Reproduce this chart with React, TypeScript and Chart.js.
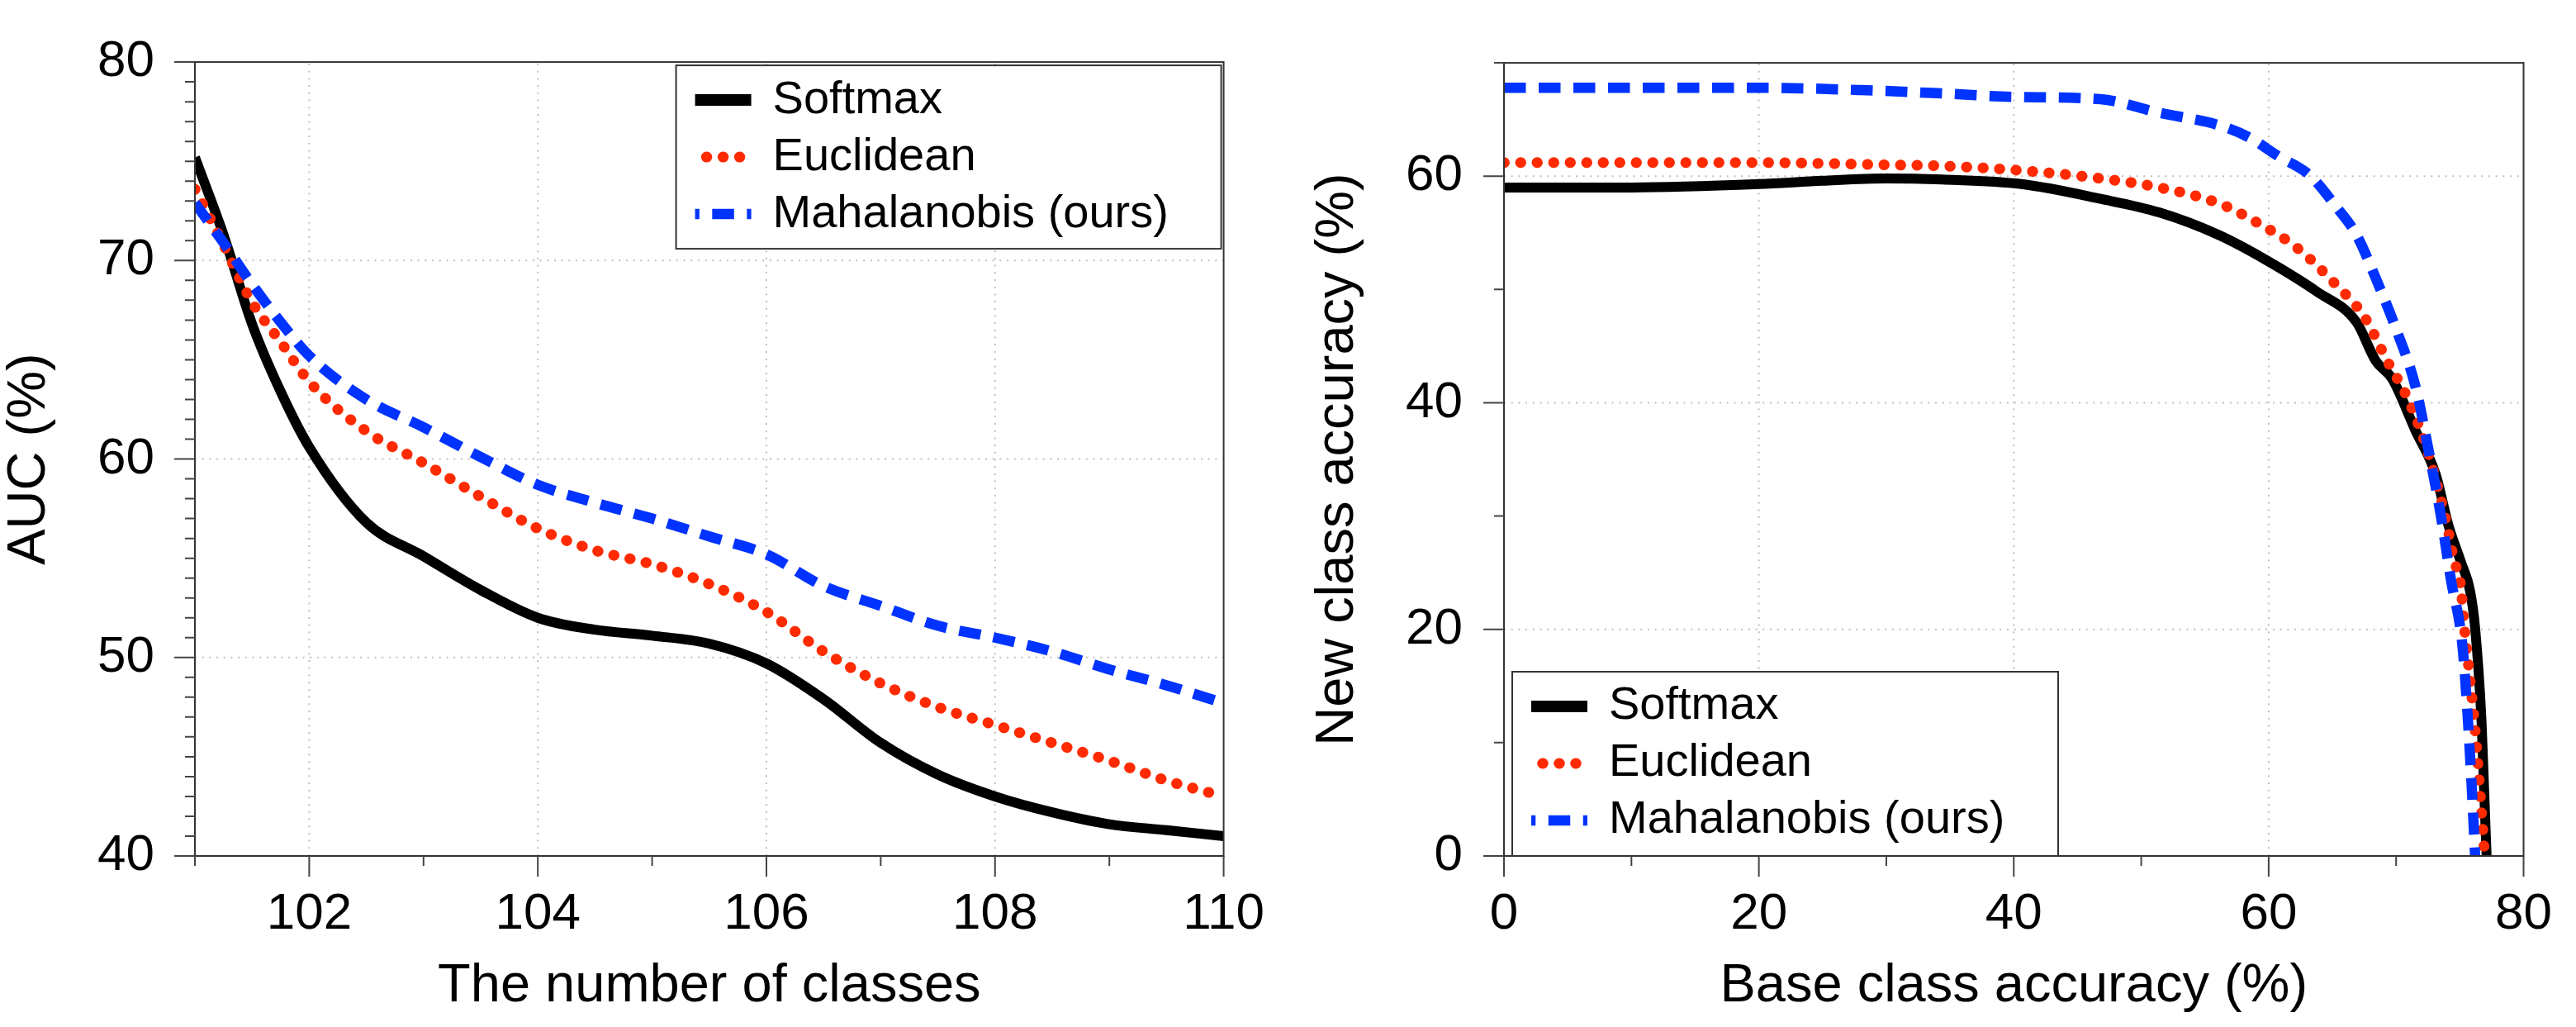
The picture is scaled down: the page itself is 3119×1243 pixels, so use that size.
import React, { useEffect, useRef } from 'react';
import { Chart, registerables } from 'chart.js';

Chart.register(...registerables);

const FONT = '"Liberation Sans", Arial, Helvetica, sans-serif';

// ---------- Left panel: AUC vs. number of classes ----------
const classCounts = [101, 101.25, 101.5, 101.75, 102, 102.5, 103, 103.5, 104, 104.5, 105, 105.5, 106, 106.5, 107, 107.5, 108, 108.5, 109, 109.5, 110];
const aucSoftmax = [75.2, 71.3, 66.8, 63.4, 60.6, 56.8, 55.1, 53.4, 52.0, 51.4, 51.1, 50.7, 49.7, 47.9, 45.7, 44.1, 43.0, 42.2, 41.6, 41.3, 41.0];
const aucEuclidean = [73.6, 70.8, 67.9, 65.9, 63.9, 61.4, 59.8, 58.1, 56.5, 55.4, 54.7, 53.7, 52.3, 50.3, 48.7, 47.5, 46.6, 45.7, 44.8, 43.8, 43.0];
const aucMahalanobis = [72.9, 70.9, 68.8, 66.9, 65.2, 63.0, 61.6, 60.1, 58.7, 57.8, 57.0, 56.1, 55.2, 53.6, 52.6, 51.6, 51.0, 50.3, 49.4, 48.6, 47.7];

const classTicks = [102, 104, 106, 108, 110];
const classMinorTicks = [101, 103, 105, 107, 109];
const aucTicks = [40, 50, 60, 70, 80];
const aucMinorTicks = [41, 42, 43, 44, 45, 46, 47, 48, 49, 51, 52, 53, 54, 55, 56, 57, 58, 59, 61, 62, 63, 64, 65, 66, 67, 68, 69, 71, 72, 73, 74, 75, 76, 77, 78, 79];

// ---------- Right panel: new class accuracy vs. base class accuracy ----------
const softmaxBase = [0, 10, 20, 25, 30, 34.4, 40.6, 46.8, 51.4, 56.1, 59.8, 63.8, 66.9, 68.4, 69.7, 71.5, 73.1, 74.1, 75.1, 75.8, 76.2, 76.7, 76.9, 77.1];
const softmaxNew = [59.0, 59.0, 59.3, 59.6, 59.8, 59.7, 59.3, 58.0, 56.8, 54.8, 52.6, 49.8, 47.1, 43.7, 42.1, 37.6, 33.7, 29.2, 25.9, 23.4, 20.1, 11.9, 6.0, 0];
const euclideanBase = [0, 10, 20, 30, 34.4, 40.6, 46.8, 51.4, 56.1, 59.1, 62.2, 65.3, 67.5, 69.3, 70.9, 72.4, 73.4, 74.0, 74.5, 75.1, 75.3, 75.7, 76.2, 76.6, 76.95];
const euclideanNew = [61.2, 61.2, 61.2, 61.0, 60.9, 60.5, 59.8, 59.0, 57.6, 55.9, 53.7, 50.4, 47.6, 43.7, 40.4, 36.0, 32.0, 29.2, 26.3, 23.6, 20.8, 16.6, 11.1, 5.5, 0];
const mahalanobisBase = [0, 10, 20, 28, 34.4, 40, 46.8, 51.4, 56.1, 58.5, 60.7, 63.2, 65.3, 66.9, 68.4, 70.0, 71.5, 72.6, 73.5, 74.3, 75.2, 75.6, 75.9, 76.2];
const mahalanobisNew = [67.8, 67.8, 67.8, 67.6, 67.3, 67.0, 66.8, 65.6, 64.5, 63.4, 61.8, 60.1, 57.3, 54.8, 51.0, 46.5, 41.5, 35.5, 30.1, 24.4, 18.6, 12.6, 6.8, 0];

const baseTicks = [0, 20, 40, 60, 80];
const baseMinorTicks = [10, 30, 50, 70];
const newTicks = [0, 20, 40, 60];
const newMinorTicks = [10, 30, 50, 70];

const seriesLabels = ['Softmax', 'Euclidean', 'Mahalanobis (ours)'];

const zip = (xs: number[], ys: number[]) => xs.map((x, i) => ({ x, y: ys[i] }));

function makeDatasets(sets: { x: number; y: number }[][]) {
  return [
    {
      label: seriesLabels[0], data: sets[0], borderColor: '#000000', borderWidth: 12,
      borderCapStyle: 'butt', borderJoinStyle: 'round', borderDash: [] as number[],
      pointRadius: 0, cubicInterpolationMode: 'monotone', order: 2, fill: false,
    },
    {
      label: seriesLabels[1], data: sets[1], borderColor: '#ff2a00', borderWidth: 13,
      borderCapStyle: 'round', borderJoinStyle: 'round', borderDash: [0.5, 19.5],
      pointRadius: 0, cubicInterpolationMode: 'monotone', order: 1, fill: false,
    },
    {
      label: seriesLabels[2], data: sets[2], borderColor: '#0033ff', borderWidth: 12.5,
      borderCapStyle: 'butt', borderJoinStyle: 'round', borderDash: [26.5, 15.5],
      pointRadius: 0, cubicInterpolationMode: 'monotone', order: 0, fill: false,
    },
  ];
}

type Box = { x: number; y: number; w: number; h: number };
type Decor = {
  xMajor: number[]; xMinor: number[]; yMajor: number[]; yMinor: number[];
  legend: (a: any) => Box;
};

function decorPlugin(d: Decor) {
  return {
    id: 'decor',
    beforeDatasetsDraw(chart: any) {
      const { ctx, chartArea: a } = chart;
      const xs = chart.scales.x, ys = chart.scales.y;
      ctx.save();
      ctx.strokeStyle = '#bfbfbf';
      ctx.lineWidth = 2;
      ctx.setLineDash([2, 6.7]);
      ctx.beginPath();
      for (const v of d.xMajor) {
        const p = xs.getPixelForValue(v);
        if (p > a.left + 3 && p < a.right - 3) { ctx.moveTo(p, a.bottom); ctx.lineTo(p, a.top); }
      }
      for (const v of d.yMajor) {
        const p = ys.getPixelForValue(v);
        if (p > a.top + 3 && p < a.bottom - 3) { ctx.moveTo(a.left, p); ctx.lineTo(a.right, p); }
      }
      ctx.stroke();
      ctx.restore();
    },
    afterDatasetsDraw(chart: any) {
      const { ctx, chartArea: a } = chart;
      const xs = chart.scales.x, ys = chart.scales.y;
      ctx.save();
      // legend
      const box = d.legend(a);
      ctx.fillStyle = '#ffffff';
      ctx.fillRect(box.x, box.y, box.w, box.h);
      ctx.strokeStyle = '#333333';
      ctx.lineWidth = 2;
      ctx.setLineDash([]);
      ctx.strokeRect(box.x, box.y, box.w, box.h);
      chart.data.datasets.forEach((ds: any, i: number) => {
        const cy = box.y + 42 + i * 69;
        const x0 = box.x + 23, x1 = box.x + 91, cx = (x0 + x1) / 2;
        ctx.save();
        ctx.strokeStyle = ds.borderColor;
        ctx.lineWidth = i === 0 ? 14 : ds.borderWidth;
        ctx.lineCap = ds.borderCapStyle;
        const dash: number[] = ds.borderDash || [];
        ctx.setLineDash(dash);
        if (dash.length) {
          const P = dash[0] + dash[1];
          const s = cx - dash[0] / 2 - x0;
          ctx.lineDashOffset = (P - (s % P)) % P;
        }
        ctx.beginPath();
        ctx.moveTo(x0, cy);
        ctx.lineTo(x1, cy);
        ctx.stroke();
        ctx.restore();
        ctx.fillStyle = '#000000';
        ctx.font = `56px ${FONT}`;
        ctx.textBaseline = 'middle';
        ctx.textAlign = 'left';
        ctx.fillText(ds.label, box.x + 117, cy);
      });
      // frame
      ctx.strokeStyle = '#333333';
      ctx.lineWidth = 2;
      ctx.strokeRect(a.left, a.top, a.right - a.left, a.bottom - a.top);
      // tick marks (outward)
      ctx.strokeStyle = '#444444';
      ctx.lineWidth = 2;
      ctx.beginPath();
      const xTick = (v: number, len: number) => {
        const p = xs.getPixelForValue(v);
        ctx.moveTo(p, a.bottom); ctx.lineTo(p, a.bottom + len);
      };
      const yTick = (v: number, len: number) => {
        const p = ys.getPixelForValue(v);
        ctx.moveTo(a.left, p); ctx.lineTo(a.left - len, p);
      };
      d.xMajor.forEach((v) => xTick(v, 25));
      d.xMinor.forEach((v) => xTick(v, 12));
      d.yMajor.forEach((v) => yTick(v, 25));
      d.yMinor.forEach((v) => yTick(v, 12));
      ctx.stroke();
      ctx.restore();
    },
  };
}

function axis(opts: {
  min: number; max: number; ticks: number[]; size: number; horizontal: boolean;
  title: string; titlePad: any; labelPad: number;
}) {
  return {
    type: 'linear',
    min: opts.min,
    max: opts.max,
    grid: { display: false },
    border: { display: false },
    afterBuildTicks: (scale: any) => {
      scale.ticks = opts.ticks.map((v) => ({ value: v }));
    },
    afterFit: (scale: any) => {
      if (opts.horizontal) scale.height = opts.size;
      else scale.width = opts.size;
    },
    ticks: {
      autoSkip: false,
      maxRotation: 0,
      minRotation: 0,
      padding: opts.labelPad,
      color: '#000000',
      font: { family: FONT, size: 62, lineHeight: 1.1 },
      callback: (v: any) => String(v),
    },
    title: {
      display: true,
      text: opts.title,
      color: '#000000',
      font: { family: FONT, size: 65, lineHeight: 1 },
      padding: opts.titlePad,
    },
  };
}

function leftConfig(): any {
  return {
    type: 'line',
    data: {
      datasets: makeDatasets([
        zip(classCounts, aucSoftmax),
        zip(classCounts, aucEuclidean),
        zip(classCounts, aucMahalanobis),
      ]),
    },
    options: {
      responsive: false,
      maintainAspectRatio: false,
      animation: false,
      devicePixelRatio: 1,
      events: [],
      layout: { padding: { left: 0, top: 37, right: 70, bottom: 0 } },
      plugins: { legend: { display: false }, tooltip: { enabled: false } },
      scales: {
        x: axis({ min: 101, max: 110, ticks: classTicks, size: 207, horizontal: true, title: 'The number of classes', titlePad: { top: 0, bottom: 16 }, labelPad: 29 }),
        y: axis({ min: 40, max: 80, ticks: aucTicks, size: 236, horizontal: false, title: 'AUC (%)', titlePad: { top: 3.5, bottom: 0 }, labelPad: 41 }),
      },
    },
    plugins: [
      decorPlugin({
        xMajor: classTicks, xMinor: classMinorTicks, yMajor: aucTicks, yMinor: aucMinorTicks,
        legend: (a: any) => ({ x: a.right - 663, y: a.top + 4, w: 660, h: 222 }),
      }),
    ],
  };
}

function rightConfig(): any {
  return {
    type: 'line',
    data: {
      datasets: makeDatasets([
        zip(softmaxBase, softmaxNew),
        zip(euclideanBase, euclideanNew),
        zip(mahalanobisBase, mahalanobisNew),
      ]),
    },
    options: {
      responsive: false,
      maintainAspectRatio: false,
      animation: false,
      devicePixelRatio: 1,
      events: [],
      layout: { padding: { left: 0, top: 37, right: 45, bottom: 0 } },
      plugins: { legend: { display: false }, tooltip: { enabled: false } },
      scales: {
        x: axis({ min: 0, max: 80, ticks: baseTicks, size: 207, horizontal: true, title: 'Base class accuracy (%)', titlePad: { top: 0, bottom: 16 }, labelPad: 29 }),
        y: axis({ min: 0, max: 70, ticks: newTicks, size: 261, horizontal: false, title: 'New class accuracy (%)', titlePad: { top: 27.5, bottom: 0 }, labelPad: 42 }),
      },
    },
    plugins: [
      decorPlugin({
        xMajor: baseTicks, xMinor: baseMinorTicks, yMajor: newTicks, yMinor: newMinorTicks,
        legend: (a: any) => ({ x: a.left + 10, y: a.bottom - 223, w: 661, h: 223 }),
      }),
    ],
  };
}

function Panel({ make, left, width }: { make: () => any; left: number; width: number }) {
  const ref = useRef<HTMLCanvasElement>(null);
  useEffect(() => {
    const chart = new Chart(ref.current as HTMLCanvasElement, make());
    return () => chart.destroy();
  }, []);
  return (
    <canvas
      ref={ref}
      width={width}
      height={1243}
      style={{ position: 'absolute', left, top: 0, width, height: 1243, display: 'block' }}
    />
  );
}

export default function App() {
  return (
    <div style={{ position: 'absolute', left: 0, top: 0, width: 3119, height: 1243, background: '#ffffff', overflow: 'hidden' }}>
      <Panel make={leftConfig} left={0} width={1560} />
      <Panel make={rightConfig} left={1560} width={1559} />
    </div>
  );
}
